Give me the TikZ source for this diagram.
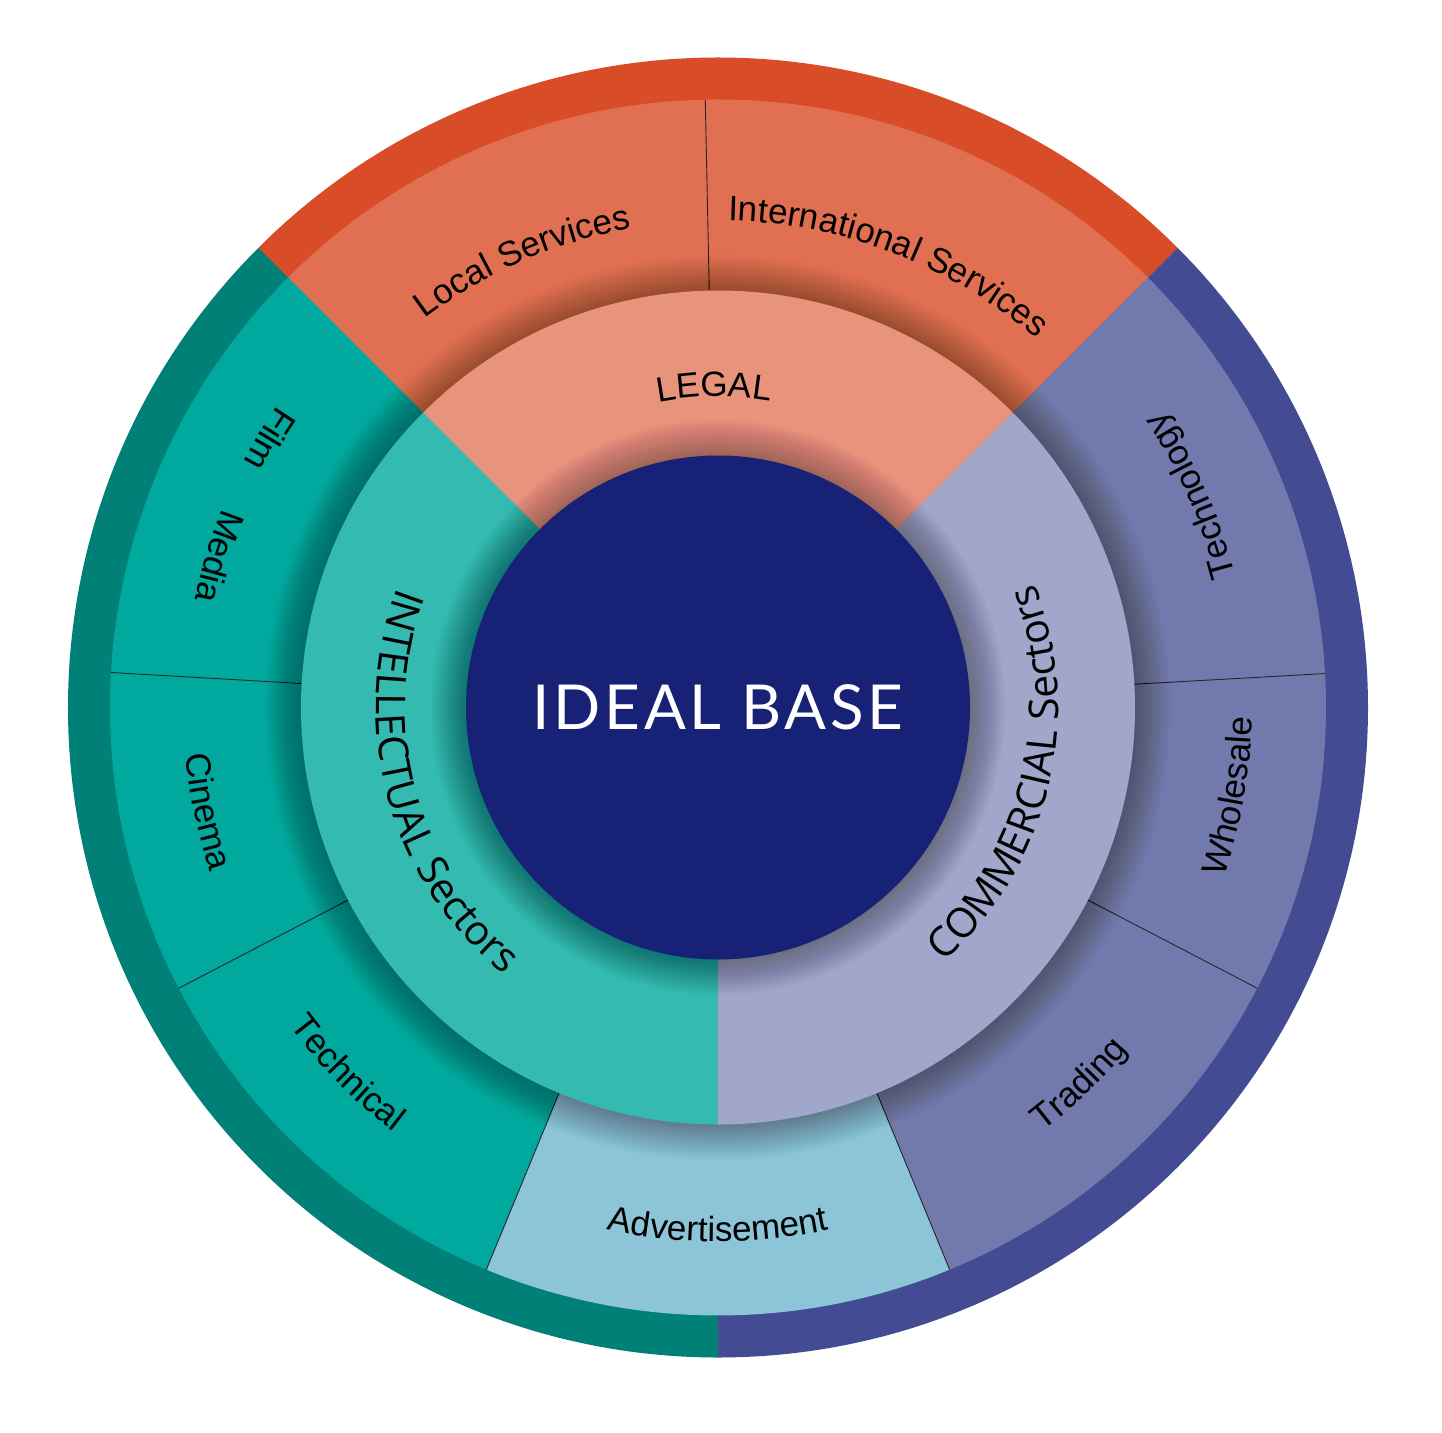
\documentclass[tikz,border=0pt]{standalone}
\usepackage{fontspec}
\usetikzlibrary{decorations.text}

\newfontfamily\labelfamily{Liberation Sans}
\newfontfamily\sectorfamily{Open Sans}
\newfontfamily\titlefamily{Lato}[LetterSpace=6]

\newcommand\labelfont{\labelfamily\fontsize{35}{41}\selectfont}
\newcommand\sectorfont{\sectorfamily\fontsize{41}{48}\selectfont}

% palette
\definecolor{bandred}{HTML}{D84C27}
\definecolor{midred}{HTML}{E17052}
\definecolor{legalred}{HTML}{E8937C}
\definecolor{bandteal}{HTML}{008076}
\definecolor{midteal}{HTML}{00A89D}
\definecolor{innerteal}{HTML}{34BAB1}
\definecolor{bandblue}{HTML}{434C92}
\definecolor{midblue}{HTML}{7279AD}
\definecolor{innerblue}{HTML}{A1A7CB}
\definecolor{advblue}{HTML}{8CC4D8}
\definecolor{corenavy}{HTML}{172276}

% filled pie slice: colour, start angle, end angle, radius
\newcommand\pieslice[4]{\fill[#1] (0,0) -- (#2:#4) arc[start angle=#2, end angle=#3, radius=#4] -- cycle;}
% text on an arc read anticlockwise, letters facing the centre:
% radius, centre angle, half span, font, text
\newcommand\arctextin[5]{\path[decorate, decoration={text along path, text align=center, text={|#4|#5}}]
  ({#2-#3}:#1) arc[start angle={#2-#3}, end angle={#2+#3}, radius=#1];}
% text on an arc read clockwise, letters facing outwards
\newcommand\arctextout[5]{\path[decorate, decoration={text along path, text align=center, text={|#4|#5}}]
  ({#2+#3}:#1) arc[start angle={#2+#3}, end angle={#2-#3}, radius=#1];}
% soft shadow cast outward from a disc of the given radius
\newcommand\softshadow[1]{\foreach \k in {1,...,36}{\fill[black, fill opacity=0.0075] (0,0) circle[radius={#1+37-\k}];}}

\tikzset{divider/.style={draw=black!85, line width=0.9}}

\begin{document}
\begin{tikzpicture}[x=1pt, y=1pt]
  \fill[white] (-718,-724.5) rectangle (724,707.5);
  \useasboundingbox (-718,-724.5) rectangle (724,707.5);

  % outer band
  \pieslice{bandred}{45}{135}{650}
  \pieslice{bandteal}{135}{270}{650}
  \pieslice{bandblue}{270}{405}{650}

  % middle ring
  \pieslice{midred}{45}{135}{608}
  \pieslice{midteal}{135}{247.6}{608}
  \pieslice{advblue}{247.6}{292.4}{608}
  \pieslice{midblue}{292.4}{405}{608}

  % dividers between the middle-ring fields
  \foreach \a [count=\i] in {91.2, 176.7, 207.5, 247.6, 292.4, 332.5, 3.2}{
    \coordinate (din\i) at (\a:417);
    \coordinate (dout\i) at (\a:608);
    \draw[divider] (din\i) -- (dout\i);
  }

  \softshadow{417}

  % inner ring
  \pieslice{legalred}{45}{135}{417}
  \pieslice{innerteal}{135}{270}{417}
  \pieslice{innerblue}{270}{405}{417}

  \softshadow{252}

  % core
  \fill[corenavy] (0,0) circle[radius=252];
  \node[text=white, inner sep=0, font=\titlefamily\fontsize{62}{70}\selectfont] (core) at (0,0) {IDEAL BASE};

  % inner ring labels
  \arctextout{311}{90.7}{40}{\labelfont}{LEGAL}
  \arctextin{342}{195.4}{60}{\sectorfont}{INTELLECTUAL Sectors}
  \arctextin{340}{-13.5}{60}{\sectorfont}{COMMERCIAL Sectors}

  % middle ring labels
  \arctextout{487}{113.6}{40}{\labelfont}{Local Services}
  \arctextout{487}{69}{40}{\labelfont}{International Services}
  \arctextin{534}{149.1}{20}{\labelfont}{Film}
  \arctextin{534}{163.2}{20}{\labelfont}{Media}
  \arctextin{534}{191.5}{25}{\labelfont}{Cinema}
  \arctextin{534}{224.6}{25}{\labelfont}{Technical}
  \arctextin{534}{270}{30}{\labelfont}{Advertisement}
  \arctextin{534}{313.8}{25}{\labelfont}{Trading}
  \arctextin{534}{350.2}{25}{\labelfont}{Wholesale}
  \arctextin{534}{24}{25}{\labelfont}{Technology}
\end{tikzpicture}
\end{document}
